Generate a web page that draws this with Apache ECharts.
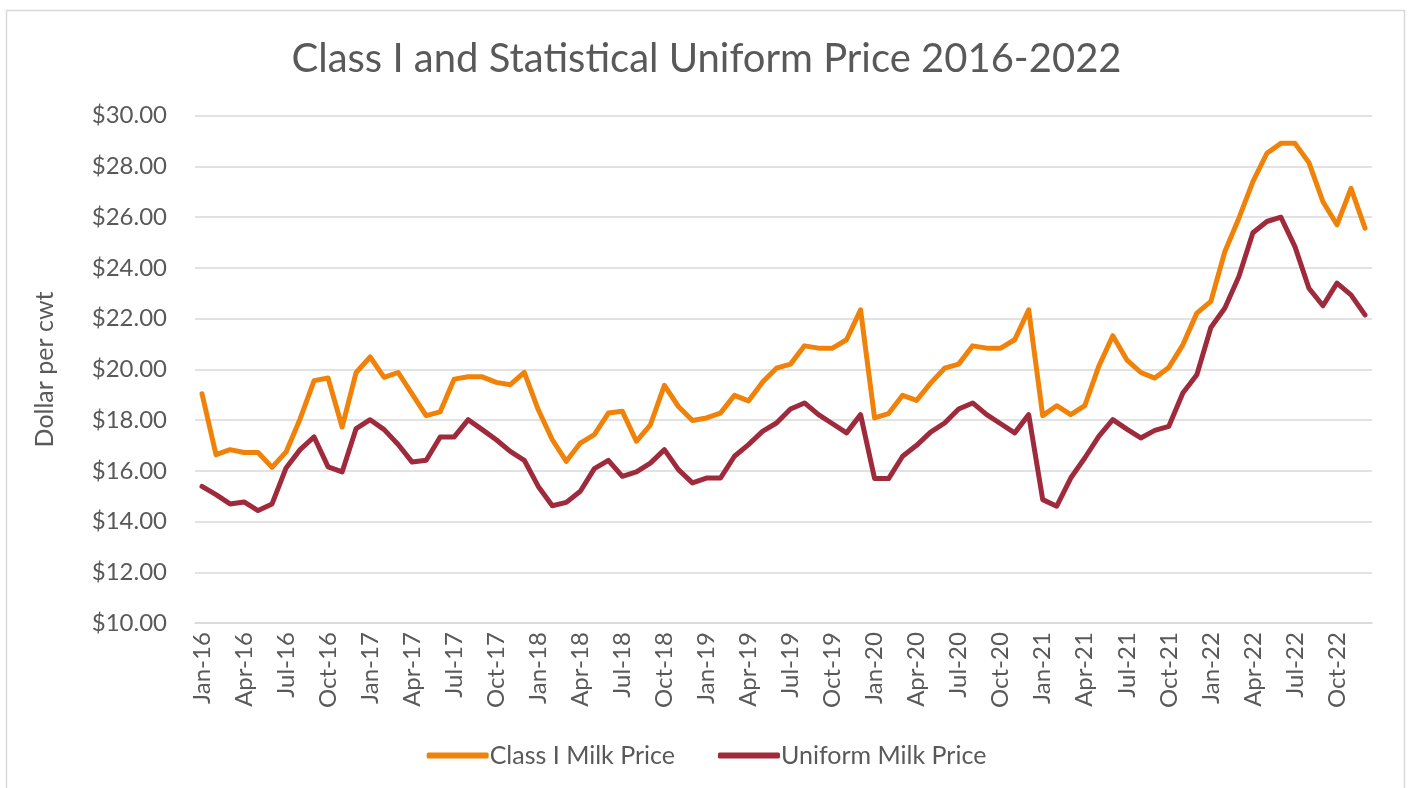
<!DOCTYPE html>
<html>
<head>
<meta charset="utf-8">
<script src="https://cdn.jsdelivr.net/npm/echarts@6/dist/echarts.min.js"></script>
<style>
html,body{margin:0;padding:0;background:#fff;}
#chart{width:1413px;height:788px;}
</style>
</head>
<body>
<div id="chart"></div>
<script>
const monthNames = ['Jan','Feb','Mar','Apr','May','Jun','Jul','Aug','Sep','Oct','Nov','Dec'];
const years = ['16','17','18','19','20','21','22'];
const categories = [];
years.forEach(y => monthNames.forEach(m => categories.push(m + '-' + y)));

const classIPrice = [
  19.04,16.64,16.84,16.73,16.73,16.14,16.75,18.05,19.56,19.66,17.73,19.88,
  20.49,19.69,19.88,19.03,18.18,18.33,19.62,19.71,19.71,19.49,19.40,19.88,
  18.41,17.23,16.38,17.10,17.43,18.28,18.35,17.17,17.82,19.37,18.54,17.99,
  18.09,18.28,18.98,18.76,19.50,20.05,20.21,20.93,20.84,20.84,21.17,22.35,
  18.09,18.26,18.98,18.78,19.46,20.05,20.21,20.93,20.84,20.84,21.17,22.35,
  18.18,18.57,18.22,18.57,20.12,21.33,20.38,19.88,19.66,20.08,20.97,22.22,
  22.68,24.65,25.96,27.40,28.52,28.91,28.91,28.15,26.61,25.70,27.14,25.57
];
const uniformPrice = [
  15.39,15.07,14.70,14.78,14.44,14.70,16.12,16.84,17.34,16.16,15.96,17.67,
  18.02,17.63,17.04,16.35,16.42,17.34,17.34,18.02,17.63,17.23,16.77,16.42,
  15.39,14.63,14.76,15.20,16.09,16.42,15.79,15.96,16.31,16.84,16.05,15.53,
  15.72,15.72,16.58,17.04,17.56,17.89,18.44,18.68,18.22,17.86,17.50,18.22,
  15.70,15.70,16.58,17.01,17.53,17.89,18.44,18.68,18.22,17.86,17.50,18.22,
  14.87,14.61,15.72,16.51,17.36,18.02,17.65,17.30,17.60,17.76,19.07,19.79,
  21.65,22.42,23.66,25.39,25.83,26.00,24.84,23.20,22.51,23.40,22.94,22.15
];
const seriesNames = ['Class I Milk Price','Uniform Milk Price'];
const titleText = 'Class I and Statistical Uniform Price 2016-2022';
const yAxisName = 'Dollar per cwt';

const FONT = 'Lato';
const TXT = '#595959';
const chart = echarts.init(document.getElementById('chart'), null, {renderer:'canvas'});
chart.setOption({
  animation:false,
  backgroundColor:'#fff',
  graphic:[{type:'rect', shape:{x:6.5,y:10.5,width:1398,height:800}, style:{fill:'none',stroke:'#d9d9d9',lineWidth:1.5}, silent:true}],
  title:{text:titleText,left:'center',top:34,textStyle:{fontFamily:FONT,fontSize:40,fontWeight:'normal',color:TXT}},
  grid:{left:195,right:41,top:115.7,bottom:164.8,containLabel:false},
  legend:{top:738,left:'center',itemWidth:62,itemHeight:6,itemGap:43,icon:'roundRect',
    textStyle:{fontFamily:FONT,fontSize:25,color:TXT,padding:[0,0,0,-4]},data:seriesNames},
  xAxis:{type:'category',data:categories,boundaryGap:true,
    axisLine:{lineStyle:{color:'#d9d9d9',width:1.5}},
    axisTick:{interval:2,length:6,lineStyle:{color:'#d9d9d9',width:1.5}},
    axisLabel:{interval:2,rotate:90,margin:9,fontFamily:FONT,fontSize:24,color:TXT},
    splitLine:{show:false}},
  yAxis:{type:'value',min:10,max:30,interval:2,name:yAxisName,nameLocation:'middle',nameGap:138,nameRotate:90,
    nameTextStyle:{fontFamily:FONT,fontSize:25,color:TXT},
    axisLine:{show:false},axisTick:{show:false},
    axisLabel:{margin:28,fontFamily:FONT,fontSize:24,color:TXT,formatter:v=>'$'+v.toFixed(2)},
    splitLine:{lineStyle:{color:'#d9d9d9',width:1.5}}},
  series:[
    {name:seriesNames[0],type:'line',data:classIPrice,showSymbol:false,symbol:'none',
      lineStyle:{color:'#F08209',width:5,cap:'round',join:'round'},itemStyle:{color:'#F08209'}},
    {name:seriesNames[1],type:'line',data:uniformPrice,showSymbol:false,symbol:'none',
      lineStyle:{color:'#9E2A3B',width:5,cap:'round',join:'round'},itemStyle:{color:'#9E2A3B'}}
  ]
});
</script>
</body>
</html>
